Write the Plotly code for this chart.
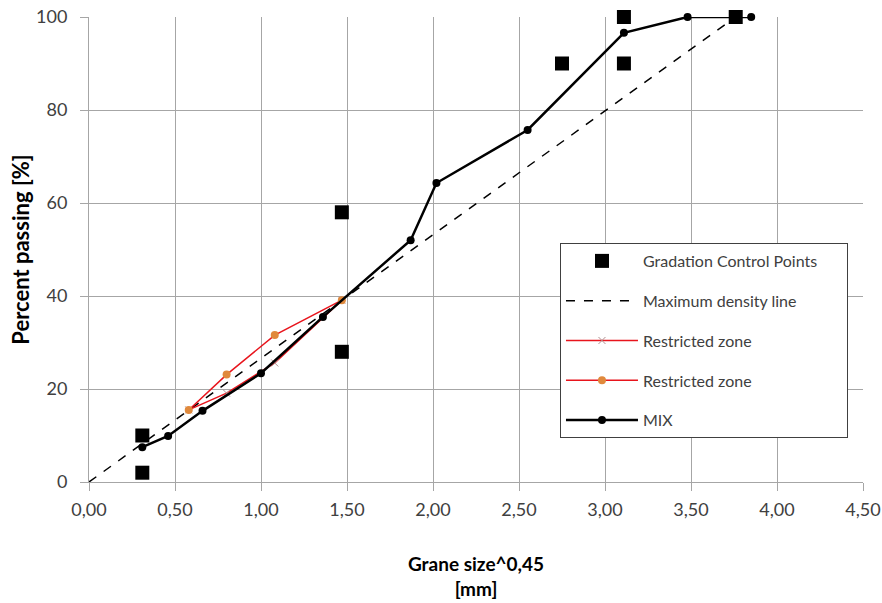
import plotly.graph_objects as go

# Gradation control points
cp_x = [0.31, 0.31, 1.47, 1.47, 2.75, 3.11, 3.11, 3.76]
cp_y = [10, 2, 58, 28, 90, 100, 90, 100]

# Maximum density line
md_x = [0.0, 3.76]
md_y = [0, 100]

# Restricted zone (lower, crosses)
rz1_x = [0.58, 0.80, 1.08, 1.47]
rz1_y = [15.5, 19.1, 25.6, 39.1]

# Restricted zone (upper, orange dots)
rz2_x = [0.58, 0.80, 1.08, 1.47]
rz2_y = [15.5, 23.1, 31.6, 39.1]

# MIX gradation
mix_x = [0.31, 0.46, 0.66, 1.00, 1.36, 1.87, 2.02, 2.55, 3.11, 3.48, 3.85]
mix_y = [7.5, 9.9, 15.3, 23.4, 35.5, 52.0, 64.3, 75.7, 96.6, 100, 100]

x_ticks = [0, 0.5, 1.0, 1.5, 2.0, 2.5, 3.0, 3.5, 4.0, 4.5]
y_ticks = [0, 20, 40, 60, 80, 100]

FONT = "Lato, Open Sans, sans-serif"
GRID = "#a6a6a6"
TXT = "#404040"

fig = go.Figure()
fig.add_trace(go.Scatter(
    x=cp_x, y=cp_y, mode="markers", name="Gradation Control Points" + "\u00a0" * 6,
    marker=dict(symbol="square", size=14, color="black"), legendgroup="a", cliponaxis=False))
fig.add_trace(go.Scatter(
    x=md_x, y=md_y, mode="lines", name="Maximum density line",
    line=dict(color="black", width=1.5, dash="dash"), legendgroup="b"))
fig.add_trace(go.Scatter(
    x=rz1_x, y=rz1_y, mode="lines+markers", name="Restricted zone",
    line=dict(color="#e8141c", width=1.5),
    marker=dict(symbol="x-thin", size=7, color="#b0a0a0", line=dict(width=1, color="#b09090")),
    legendgroup="c"))
fig.add_trace(go.Scatter(
    x=rz2_x, y=rz2_y, mode="lines+markers", name="Restricted zone",
    line=dict(color="#e8141c", width=1.5),
    marker=dict(symbol="circle", size=8, color="#e0893c"), legendgroup="d"))
fig.add_trace(go.Scatter(
    x=mix_x, y=mix_y, mode="lines+markers", name="MIX",
    line=dict(color="black", width=2.5),
    marker=dict(symbol="circle", size=8, color="black"), legendgroup="e", cliponaxis=False))

fig.update_layout(
    width=882, height=603,
    margin=dict(l=89, r=19, t=17, b=121, autoexpand=False),
    paper_bgcolor="white", plot_bgcolor="white",
    separators=",.",
    font=dict(family=FONT, size=16, color=TXT),
    showlegend=True,
    legend=dict(
        x=0.6085, y=0.514, xanchor="left", yanchor="top",
        bordercolor="#404040", borderwidth=1, bgcolor="white",
        font=dict(family=FONT, size=16, color=TXT),
        traceorder="grouped", tracegroupgap=16, itemwidth=72,
    ),
)
fig.update_xaxes(
    range=[0, 4.5], tickvals=x_ticks, tickformat=".2f", automargin=False,
    showgrid=True, gridcolor=GRID, gridwidth=1,
    showline=True, linecolor=GRID, ticks="outside", ticklen=8, tickcolor=GRID,
    ticklabelstandoff=3,
    zeroline=False, mirror=False,
    tickfont=dict(family=FONT, size=18, color=TXT),
    title=dict(text="<b>Grane size^0,45<br>[mm]</b>", standoff=39,
               font=dict(family=FONT, size=19, color="black")),
)
fig.update_yaxes(
    range=[0, 100], tickvals=y_ticks, automargin=False,
    showgrid=True, gridcolor=GRID, gridwidth=1,
    showline=True, linecolor=GRID, ticks="outside", ticklen=8, tickcolor=GRID,
    ticklabelstandoff=9,
    zeroline=False,
    tickfont=dict(family=FONT, size=18, color=TXT),
    title=dict(text="<b>Percent passing [%]</b>", standoff=0,
               font=dict(family=FONT, size=22, color="black")),
)

fig.write_html("out.html")
